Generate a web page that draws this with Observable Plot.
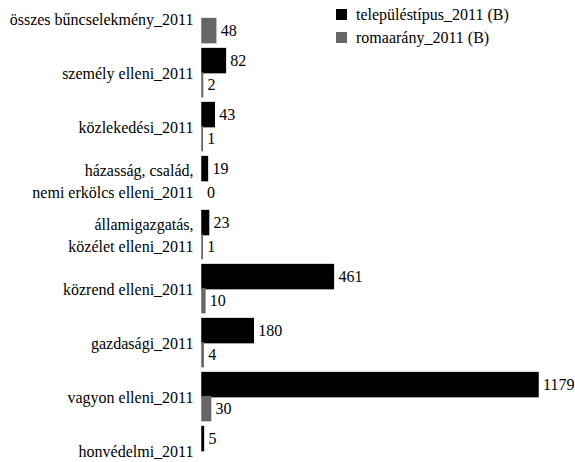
<!DOCTYPE html>
<html>
<head>
<meta charset="utf-8">
<script src="https://cdn.jsdelivr.net/npm/d3@7"></script>
<script src="https://cdn.jsdelivr.net/npm/@observablehq/plot@0.6"></script>
<style>
  html, body { margin: 0; padding: 0; background: #fff; overflow: hidden; }
  #wrap { position: relative; width: 575px; height: 462px; overflow: hidden; font-family: 'Liberation Serif'; }
  #legend { position: absolute; left: 336px; top: 3px; font-size: 16px; color: #000; }
  .item { display: flex; align-items: center; height: 23px; white-space: nowrap; }
  .sw { width: 11px; height: 11px; margin-right: 9px; flex: none; }
</style>
</head>
<body>
<div id="wrap">
  <div id="chart"></div>
  <div id="legend"></div>
</div>
<script>
const categories = [
  "összes bűncselekmény_2011",
  "személy elleni_2011",
  "közlekedési_2011",
  "házasság, család,\nnemi erkölcs elleni_2011",
  "államigazgatás,\nközélet elleni_2011",
  "közrend elleni_2011",
  "gazdasági_2011",
  "vagyon elleni_2011",
  "honvédelmi_2011"
];
const seriesNames = ["településtípus_2011 (B)", "romaarány_2011 (B)"];
const seriesColors = ["#000000", "#666666"];
const telepulestipus = [null, 82, 43, 19, 23, 461, 180, 1179, 5];
const romaarany = [48, 2, 1, 0, 1, 10, 4, 30, null];

const rows = [];
categories.forEach((c, i) => {
  rows.push({category: c, series: seriesNames[0], value: telepulestipus[i]});
  rows.push({category: c, series: seriesNames[1], value: romaarany[i]});
});

const chart = Plot.plot({
  width: 575,
  height: 462,
  marginLeft: 202,
  marginRight: 37,
  marginTop: -8.6,
  marginBottom: -15.6,
  style: {fontSize: "16px", background: "transparent"},
  x: {domain: [0, 1179], axis: null},
  y: {domain: seriesNames, axis: null, padding: 0},
  fy: {domain: categories, paddingInner: 0.1, paddingOuter: 0},
  color: {domain: seriesNames, range: seriesColors},
  marks: [
    Plot.barX(rows.filter(d => d.value != null && d.value > 0), {
      x: "value", y: "series", fy: "category",
      fill: "series", stroke: "series", strokeWidth: 1.5
    }),
    Plot.text(rows.filter(d => d.value != null), {
      x: "value", y: "series", fy: "category", text: d => String(d.value),
      textAnchor: "start", dx: 4.5, fill: "#000", fontSize: 16
    }),
    Plot.axisFy({anchor: "left", tickSize: 0, tickPadding: 9, label: null, fontSize: 16, lineHeight: 1.375, fill: "#000", dy: -1.5})
  ]
});
chart.style.fontFamily = "'Liberation Serif'";
chart.querySelectorAll("text").forEach(t => t.style.fontFamily = "'Liberation Serif'");
document.getElementById("chart").appendChild(chart);

const legend = document.getElementById("legend");
seriesNames.forEach((s, i) => {
  const item = document.createElement("div");
  item.className = "item";
  const sw = document.createElement("span");
  sw.className = "sw";
  sw.style.background = seriesColors[i];
  const t = document.createElement("span");
  t.textContent = s;
  t.style.fontFamily = "'Liberation Serif'";
  item.appendChild(sw);
  item.appendChild(t);
  legend.appendChild(item);
});
</script>
</body>
</html>
